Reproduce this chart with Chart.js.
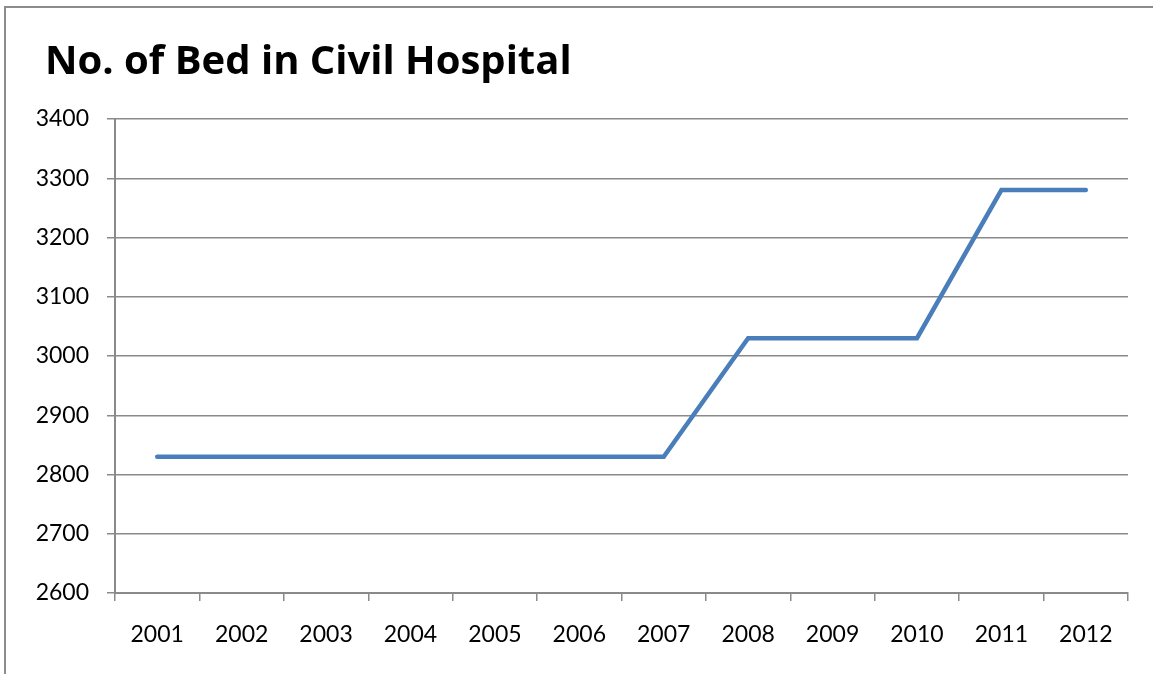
<!DOCTYPE html>
<html>
<head>
<meta charset="utf-8">
<script src="https://cdn.jsdelivr.net/npm/chart.js@4.4.1/dist/chart.umd.min.js"></script>
<style>
  html, body { margin: 0; padding: 0; background: #fff; }
  #wrap { position: relative; width: 1153px; height: 674px; overflow: hidden; }
  #frame { position: absolute; left: 4px; top: 6px; width: 1200px; height: 700px;
           border-left: 2px solid #8c8c8c; border-top: 2px solid #8c8c8c; }
  canvas { position: absolute; left: 0; top: 0; }
  h1 { position: absolute; left: 45px; top: 39px; margin: 0;
       font: bold 40px/1 'Open Sans', sans-serif; color: #000; white-space: nowrap; }
</style>
</head>
<body>
<div id="wrap">
  <div id="frame"></div>
  <canvas id="myChart" width="1153" height="674"></canvas>
  <h1>No. of Bed in Civil Hospital</h1>
</div>
<script>
// data
const years = ['2001', '2002', '2003', '2004', '2005', '2006', '2007', '2008', '2009', '2010', '2011', '2012'];
const beds = [2830, 2830, 2830, 2830, 2830, 2830, 2830, 3030, 3030, 3030, 3280, 3280];
const yMin = 2600;
const yMax = 3400;
const yStep = 100;

const gridGray = '#8a8a8a';
const labelFont = { family: 'Lato', size: 23 };

const ctx = document.getElementById('myChart');
const myChart = new Chart(ctx, {
  type: 'line',
  data: {
    labels: years,
    datasets: [{
      label: 'No. of Bed',
      data: beds,
      borderColor: '#4A7EBB',
      borderWidth: 4.5,
      borderCapStyle: 'round',
      borderJoinStyle: 'miter',
      pointRadius: 0,
      tension: 0,
      fill: false
    }]
  },
  options: {
    responsive: false,
    animation: false,
    // title sits above in the h1, so leave room for it
    layout: { padding: { left: 0, right: 25, top: 119, bottom: 0 } },
    plugins: {
      legend: { display: false },
      tooltip: { enabled: false },
      title: { display: false }
    },
    scales: {
      x: {
        offset: true,
        grid: {
          offset: true,
          drawOnChartArea: false,
          drawTicks: true,
          tickLength: 8,
          lineWidth: 1.5,
          color: gridGray
        },
        border: { color: gridGray, width: 2 },
        ticks: { color: '#000', font: labelFont, padding: 20, maxRotation: 0 },
        afterFit: (scale) => { scale.height = 81; }
      },
      y: {
        min: yMin,
        max: yMax,
        grid: { color: gridGray, tickLength: 8, lineWidth: 1.5 },
        border: { color: gridGray, width: 2 },
        ticks: {
          stepSize: yStep,
          color: '#000',
          font: labelFont,
          padding: 18,
          callback: (value) => String(value)
        },
        afterFit: (scale) => { scale.width = 115; }
      }
    }
  }
});
</script>
</body>
</html>
